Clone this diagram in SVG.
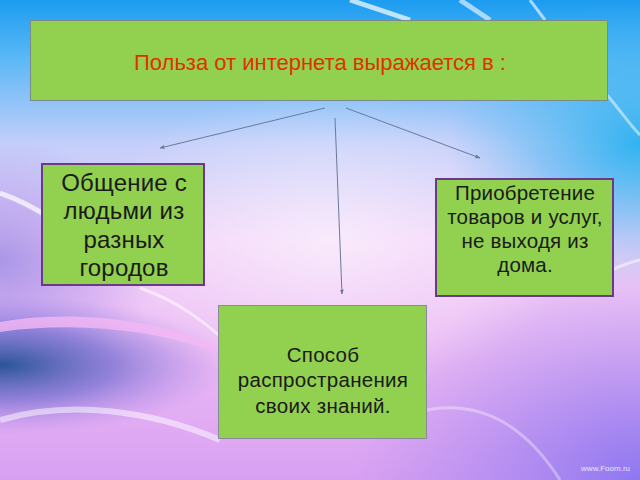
<svg xmlns="http://www.w3.org/2000/svg" width="640" height="480" viewBox="0 0 640 480">
<defs>
<linearGradient id="bg" x1="0" y1="0" x2="0" y2="1">
<stop offset="0" stop-color="#1c9cf0"/>
<stop offset="0.12" stop-color="#5ab8f6"/>
<stop offset="0.3" stop-color="#c4cefa"/>
<stop offset="0.5" stop-color="#f2d0f8"/>
<stop offset="0.75" stop-color="#eab8f4"/>
<stop offset="1" stop-color="#d8a0f2"/>
</linearGradient>
<radialGradient id="glow" cx="0.5" cy="0.5" r="0.5">
<stop offset="0" stop-color="#ffffff" stop-opacity="0.55"/>
<stop offset="1" stop-color="#ffffff" stop-opacity="0"/>
</radialGradient>
<radialGradient id="leftdark" cx="0" cy="0" r="1" gradientUnits="userSpaceOnUse" gradientTransform="translate(0,365) scale(230,70)">
<stop offset="0" stop-color="#1e5090" stop-opacity="0.95"/>
<stop offset="0.5" stop-color="#5a60c8" stop-opacity="0.6"/>
<stop offset="1" stop-color="#9a80e8" stop-opacity="0"/>
</radialGradient>
<radialGradient id="leftmid" cx="0" cy="0" r="1" gradientUnits="userSpaceOnUse" gradientTransform="translate(0,260) scale(160,120)">
<stop offset="0" stop-color="#8a80e0" stop-opacity="0.7"/>
<stop offset="1" stop-color="#9a80e8" stop-opacity="0"/>
</radialGradient>
<radialGradient id="brblue" cx="1" cy="1" r="0.45">
<stop offset="0" stop-color="#8070f0" stop-opacity="0.85"/>
<stop offset="1" stop-color="#9a80f0" stop-opacity="0"/>
</radialGradient>
<radialGradient id="rcyan" cx="1" cy="0.3" r="0.3">
<stop offset="0" stop-color="#20b0f0" stop-opacity="0.9"/>
<stop offset="1" stop-color="#40b8f0" stop-opacity="0"/>
</radialGradient>
<marker id="ah" viewBox="0 0 10 10" refX="9" refY="5" markerWidth="5" markerHeight="5" orient="auto">
<path d="M0,1 L10,5 L0,9 z" fill="#6a7a9a"/>
</marker>
<style>
.box{fill:#92d050;}
.t{font-family:"Liberation Sans",Arial,sans-serif;text-anchor:middle;fill:#1a1a1a;}
.c{stroke:#6a7a9a;stroke-width:1;fill:none;marker-end:url(#ah);}
.sw{fill:none;stroke:#ffffff;}
</style>
</defs>
<rect width="640" height="480" fill="url(#bg)"/>
<rect width="640" height="480" fill="url(#leftmid)"/>
<rect width="640" height="480" fill="url(#leftdark)"/>
<rect width="640" height="480" fill="url(#brblue)"/>
<rect width="640" height="480" fill="url(#rcyan)"/>
<ellipse cx="330" cy="240" rx="250" ry="150" fill="url(#glow)"/>
<path class="sw" d="M0,193 C20,200 35,208 50,218" stroke="#f8d8f8" stroke-width="5" opacity="0.7"/>
<path class="sw" d="M140,288 C175,300 205,320 240,355" stroke-width="3" opacity="0.55"/>
<path d="M0,322 C70,310 150,318 215,345 L215,352 C150,328 70,322 0,332 z" fill="#f4b8f4" opacity="0.8"/>
<path class="sw" d="M0,420 C70,400 150,410 220,440" stroke="#f8c8f8" stroke-width="6" opacity="0.5"/>
<path class="sw" d="M426,410 C480,400 525,425 560,480" stroke-width="3" opacity="0.35"/>
<path class="sw" d="M350,0 L410,20" stroke-width="5" opacity="0.7"/>
<path class="sw" d="M460,0 L490,20" stroke-width="5" opacity="0.6"/>
<path class="sw" d="M530,0 L545,20" stroke-width="3" opacity="0.6"/>
<path class="sw" d="M607,95 C620,110 630,125 640,135" stroke-width="3" opacity="0.5"/>
<path class="sw" d="M612,270 C622,265 632,262 640,260" stroke-width="3" opacity="0.5"/>
<g id="connectors">
<line class="c" x1="325" y1="108" x2="160" y2="148"/>
<line class="c" x1="335" y1="118" x2="342" y2="294"/>
<line class="c" x1="346" y1="108" x2="480" y2="158"/>
</g>
<g id="top">
<rect class="box" x="30.5" y="20.5" width="577" height="80" stroke="#7a8a8a" stroke-width="1"/>
<text class="t" x="320" y="70" font-size="22" style="fill:#e03000">Польза от интернета выражается в :</text>
</g>
<g id="left">
<rect class="box" x="42" y="164" width="162" height="121" stroke="#6a3a8a" stroke-width="2"/>
<text class="t" font-size="24" letter-spacing="0.2"><tspan x="124" y="191">Общение с</tspan><tspan x="124" y="219">людьми из</tspan><tspan x="124" y="248">разных</tspan><tspan x="124" y="276">городов</tspan></text>
</g>
<g id="right">
<rect class="box" x="436" y="179" width="177" height="117" stroke="#6a3a8a" stroke-width="2"/>
<text class="t" font-size="20.5" letter-spacing="0.2"><tspan x="525" y="200">Приобретение</tspan><tspan x="525" y="224">товаров и услуг,</tspan><tspan x="525" y="248">не выходя из</tspan><tspan x="525" y="272">дома.</tspan></text>
</g>
<g id="bottom">
<rect class="box" x="218.5" y="305.5" width="208" height="133" stroke="#8a8a9a" stroke-width="1"/>
<text class="t" font-size="20.5" letter-spacing="0.3"><tspan x="323" y="362">Способ</tspan><tspan x="323" y="387">распространения</tspan><tspan x="323" y="413">своих знаний.</tspan></text>
</g>
<text x="630" y="471" font-family="Liberation Sans,Arial,sans-serif" font-size="8" fill="#ffffff" text-anchor="end" opacity="0.8">www.Foom.ru</text>
</svg>
